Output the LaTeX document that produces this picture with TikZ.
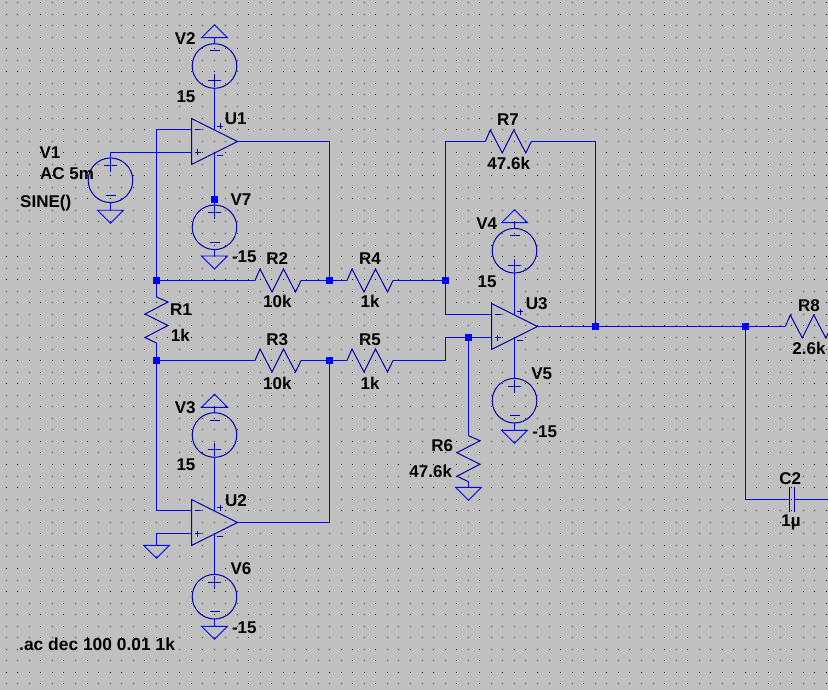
\documentclass[tikz,border=0pt]{standalone}
\usepackage{fontspec}
\setmainfont{Liberation Sans}
\usetikzlibrary{calc}

\definecolor{sheet}{RGB}{192,192,192}
\definecolor{wirecol}{RGB}{0,0,255}
\definecolor{symcol}{RGB}{0,0,170}

\tikzset{
	wire/.style={draw=wirecol,line width=1.5pt},
	sym/.style={draw=symcol,line width=1pt},
	gndline/.style={draw=wirecol,line width=0.9pt},
	junction/.style={fill=wirecol,rectangle,minimum size=6.5pt,inner sep=0pt},
	lbl/.style={text=black,font=\fontsize{17}{17}\selectfont\bfseries,inner sep=0pt},
	pics/opamp/.style={code={
		\draw[sym] (-23,-23) -- (23,0) -- (-23,23) -- cycle;
		\draw[sym] (-20,-12) -- (-14,-12) (-20,11) -- (-14,11) (-17,8) -- (-17,14);
		\draw[sym] (2.5,-15) -- (8.5,-15) (5.5,-18) -- (5.5,-12) (2.5,14) -- (8.5,14);
		\coordinate (-minus) at (-23,-12);
		\coordinate (-plus) at (-23,11);
		\coordinate (-out) at (23,0);
		\coordinate (-p) at (0,-12);
		\coordinate (-n) at (0,11);
	}},
	pics/vsrc/.style={code={
		\draw[sym] (0,0) circle (22.3);
		\draw[sym] (-6.5,-14.5) -- (6.5,-14.5) (0,-21) -- (0,-8) (-5,15) -- (5,15);
		\coordinate (-p) at (0,-22.3);
		\coordinate (-n) at (0,22.3);
	}},
	pics/gnd/.style={code={
		\draw[gndline] (-13,0) -- (13,0) -- (0,13) -- cycle;
		\coordinate (-a) at (0,0);
	}},
	pics/res/.style={code={
		\draw[sym] (0,0) -- (5,-11.5) -- (17,11.5) -- (28.5,-11.5) -- (40.5,11.5) -- (46,0);
		\coordinate (-a) at (0,0);
		\coordinate (-b) at (46,0);
	}},
	pics/cap/.style={code={
		\draw[sym] (-2.7,-12.5) -- (-2.7,12.5) (2.7,-12.5) -- (2.7,12.5);
		\coordinate (-a) at (-2.7,0);
		\coordinate (-b) at (2.7,0);
	}}
}

\begin{document}
\begin{tikzpicture}[x=1pt,y=-1pt]

\path[use as bounding box,clip] (0,0) rectangle (828,690);
\fill[sheet] (0,0) rectangle (828,690);

% grid
\foreach \i in {0,...,71}
	\foreach \j in {0,...,59}{
		\pgfmathsetmacro{\gx}{floor(6.2+11.55*\i)}
		\pgfmathsetmacro{\gy}{floor(2.5+11.55*\j)}
		\fill[black] (\gx,\gy) rectangle +(1,1);
	}

% amplifiers
\pic (U1) at (214.5,141.5) {opamp};
\pic (U2) at (214.5,522.5) {opamp};
\pic (U3) at (514.5,326.5) {opamp};

% sources
\pic (V1) at (110.5,180.3) {vsrc};
\pic (V2) [rotate=180] at (214.5,66) {vsrc};
\pic (V7) at (214.5,227.3) {vsrc};
\pic (V3) [rotate=180] at (214.5,435) {vsrc};
\pic (V6) at (214.5,596.7) {vsrc};
\pic (V4) [rotate=180] at (514.5,250.7) {vsrc};
\pic (V5) at (514.5,400.7) {vsrc};

% grounds
\pic (G1) at (110.5,210.3) {gnd};
\pic (G2) [rotate=180] at (214.5,37.7) {gnd};
\pic (G7) at (214.5,256) {gnd};
\pic (G3) [rotate=180] at (214.5,407.3) {gnd};
\pic (G6) at (214.5,626.3) {gnd};
\pic (G4) [rotate=180] at (514.5,222.7) {gnd};
\pic (G5) at (514.5,430.3) {gnd};
\pic (GR) at (468.5,487.3) {gnd};
\pic (GU) at (156.5,545.3) {gnd};

% resistors
\pic (R1) [rotate=-90] at (156.5,297) {res};
\pic (R2) at (255,280.5) {res};
\pic (R3) at (255,360.5) {res};
\pic (R4) at (347,280.5) {res};
\pic (R5) at (347,360.5) {res};
\pic (R6) [rotate=-90] at (468.5,435.7) {res};
\pic (R7) at (485.3,141.5) {res};
\pic (R8) at (785.3,326.5) {res};
\pic (C2) at (791.7,499.5) {cap};

% junctions
\node[junction] (n7) at (214.5,199.3) {};
\node[junction] (a) at (156.5,280.5) {};
\node[junction] (b) at (329.5,280.5) {};
\node[junction] (c) at (156.5,360.5) {};
\node[junction] (d) at (329.5,360.5) {};
\node[junction] (e) at (445.5,280.5) {};
\node[junction] (f) at (468.5,337.5) {};
\node[junction] (g) at (595.5,326.5) {};
\node[junction] (h) at (745.5,326.5) {};
\coordinate (k) at (445.5,337.5);
\coordinate (edge) at (830,499.5);

% wires
\draw[wire] (V1-p) |- (U1-plus);
\draw[wire] (V1-n) -- (G1-a);
\draw[wire] (G2-a) -- (V2-n);
\draw[wire] (V2-p) -- (U1-p);
\draw[wire] (U1-n) -- (n7) -- (V7-p);
\draw[wire] (V7-n) -- (G7-a);
\draw[wire] (U1-minus) -| (a);
\draw[wire] (U1-out) -| (b);
\draw[wire] (a) -- (R1-a);
\draw[wire] (R1-b) -- (c);
\draw[wire] (a) -- (R2-a);
\draw[wire] (R2-b) -- (b);
\draw[wire] (b) -- (R4-a);
\draw[wire] (R4-b) -- (e);
\draw[wire] (c) -- (R3-a);
\draw[wire] (R3-b) -- (d);
\draw[wire] (d) -- (R5-a);
\draw[wire] (R5-b) -| (k) -- (f);
\draw[wire] (f) -- (U3-plus);
\draw[wire] (f) -- (R6-a);
\draw[wire] (R6-b) -- (GR-a);
\draw[wire] (c) |- (U2-minus);
\draw[wire] (U2-plus) -| (GU-a);
\draw[wire] (U2-out) -| (d);
\draw[wire] (G3-a) -- (V3-n);
\draw[wire] (V3-p) -- (U2-p);
\draw[wire] (U2-n) -- (V6-p);
\draw[wire] (V6-n) -- (G6-a);
\draw[wire] (e) |- (R7-a);
\draw[wire] (e) |- (U3-minus);
\draw[wire] (R7-b) -| (g);
\draw[wire] (G4-a) -- (V4-n);
\draw[wire] (V4-p) -- (U3-p);
\draw[wire] (U3-n) -- (V5-p);
\draw[wire] (V5-n) -- (G5-a);
\draw[wire] (U3-out) -- (g);
\draw[wire] (g) -- (h);
\draw[wire] (h) -- (R8-a);
\draw[wire] (h) |- (C2-a);
\draw[wire] (C2-b) -- (edge);

% labels
\node[lbl] (tV1) at (50,153) {V1};
\node[lbl,anchor=west] (tV1a) at (40,173.3) {AC 5m};
\node[lbl,anchor=west] (tV1b) at (20,203.3) {SINE()};
\node[lbl] (tV2) at (185.3,38.7) {V2};
\node[lbl] (tV2a) at (186,96.3) {15};
\node[lbl] (tU1) at (235.7,119) {U1};
\node[lbl] (tV7) at (241,200) {V7};
\node[lbl] (tV7a) at (244.3,257) {-15};
\node[lbl] (tR2) at (277.3,259) {R2};
\node[lbl] (tR2a) at (277.3,301.7) {10k};
\node[lbl] (tR4) at (370,259) {R4};
\node[lbl] (tR4a) at (370,301.7) {1k};
\node[lbl] (tR1) at (181,309.3) {R1};
\node[lbl] (tR1a) at (180.3,335.7) {1k};
\node[lbl] (tR3) at (277.3,340) {R3};
\node[lbl] (tR3a) at (277.3,383.3) {10k};
\node[lbl] (tR5) at (370,340) {R5};
\node[lbl] (tR5a) at (370,383.3) {1k};
\node[lbl] (tV3) at (185.3,408) {V3};
\node[lbl] (tV3a) at (186,465) {15};
\node[lbl] (tU2) at (236,500.3) {U2};
\node[lbl] (tV6) at (241,569) {V6};
\node[lbl] (tV6a) at (244.3,627.3) {-15};
\node[lbl,anchor=west,font=\fontsize{17.4}{17.4}\selectfont\bfseries] (tac) at (19,644) {.ac dec 100 0.01 1k};
\node[lbl] (tR7) at (508,120) {R7};
\node[lbl] (tR7a) at (508.7,163) {47.6k};
\node[lbl] (tV4) at (486.7,223.3) {V4};
\node[lbl] (tV4a) at (487,281.7) {15};
\node[lbl] (tU3) at (536.7,304) {U3};
\node[lbl] (tV5) at (541.7,373.3) {V5};
\node[lbl] (tV5a) at (544.7,431.3) {-15};
\node[lbl] (tR6) at (442.3,445.3) {R6};
\node[lbl] (tR6a) at (430.7,471) {47.6k};
\node[lbl] (tR8) at (809,305.7) {R8};
\node[lbl] (tR8a) at (809,348) {2.6k};
\node[lbl] (tC2) at (790.3,478.3) {C2};
\node[lbl] (tC2a) at (791,522.7) {1µ};

\end{tikzpicture}
\end{document}
